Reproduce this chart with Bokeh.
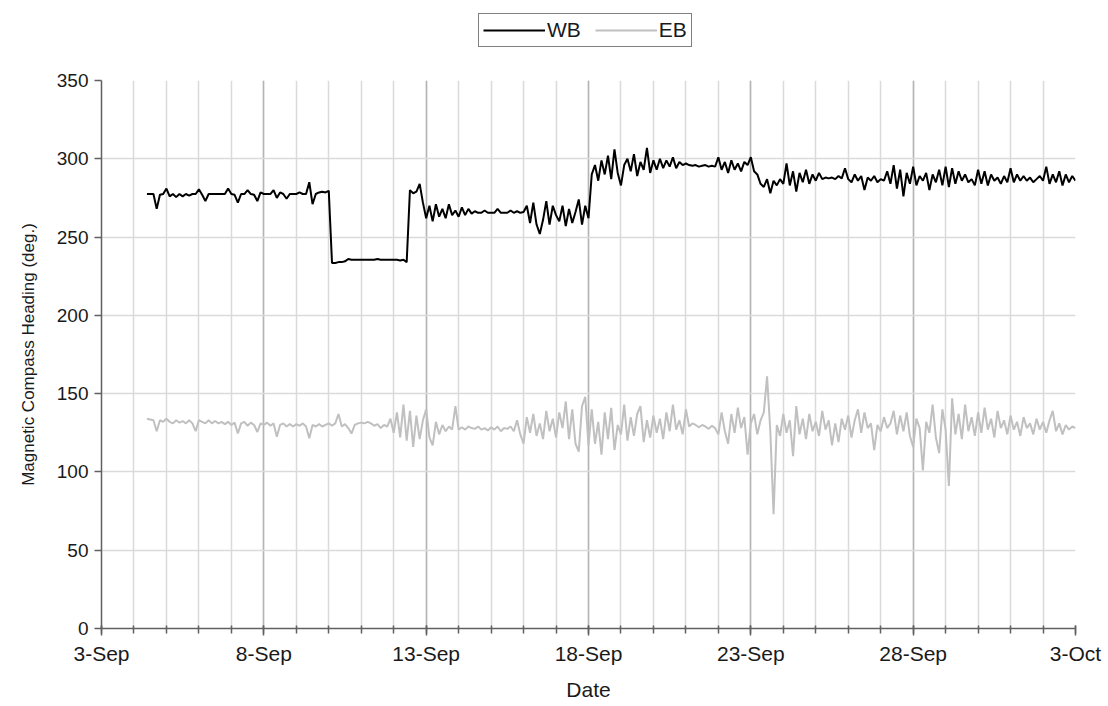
import numpy as np
from bokeh.embed import file_html
from bokeh.layouts import column
from bokeh.models import FixedTicker, Legend, LegendItem, Range1d
from bokeh.plotting import figure
from bokeh.resources import INLINE

# ---- data -----------------------------------------------------------------
# Day axis runs from 3-Sep (day 0) to 3-Oct (day 30); readings every 0.1 day.
first_reading_day = 1.4
reading_interval_days = 0.1

tick_days = [0, 5, 10, 15, 20, 25, 30]
tick_labels = ["3-Sep", "8-Sep", "13-Sep", "18-Sep", "23-Sep", "28-Sep", "3-Oct"]
heading_ticks = [0, 50, 100, 150, 200, 250, 300, 350]

# Westbound heading (deg.)
wb_seg1 = [277.5, 277.5, 277.5, 268, 277, 277.5,
           281, 276, 277.5, 275.5, 277.5, 276, 277.5, 276.5, 277.5, 277.5,
           280.5, 277, 273, 277.5, 277.5, 277.5, 277.5, 277.5, 277.5, 281,
           277.5, 277, 272, 277.5, 277.5, 280, 277.5, 277, 273, 278.5,
           277.5, 277.5, 277.5, 280, 275, 278.5, 277.5, 274.5, 277.5, 277.5,
           277.5, 278.5, 277.5, 277.5, 285, 271, 277.5, 278.5, 279, 278.5,
           279.5]
wb_seg2 = [233.5, 233.5, 234, 234, 234.5, 236, 235.5, 235.5, 235.5,
           235.5, 235.5, 235.5, 235.5, 235.5, 236, 235.5, 235.5, 235.5, 235.5,
           235.5, 235.5, 235, 235.5, 234]
wb_seg3 = [280, 278, 279, 284, 272,
           262, 270, 260, 271, 263, 268, 262, 271, 264, 267,
           263, 269, 264, 268, 265, 266.5, 265.5, 265.5, 267, 265.5,
           265.5, 265.5, 268, 265.5, 265.5, 265.5, 267, 265.5, 266.5, 265.5,
           266, 270, 259, 272, 258, 252, 261, 273, 258, 270,
           264, 260, 270, 257, 268, 259, 266, 274, 258, 270,
           262]
wb_seg4 = [290, 296, 286, 299, 290, 302, 287, 306, 291,
           283, 296, 300, 292, 303, 289, 298, 293, 307, 291,
           299, 293, 300, 294, 299, 295, 301, 294, 298, 296,
           297, 296, 295.5, 296, 295, 295.5, 296, 295, 295.5, 295,
           301, 293, 298, 291, 299, 293, 297, 292, 298, 296,
           301, 292]
wb_seg5 = [290, 284, 282, 287, 278, 286, 283, 287,
           284, 297, 283, 292, 279, 291, 285, 293, 284, 290,
           286, 291, 287, 288, 287.5, 288, 287, 289, 287.5, 294,
           287, 285, 290, 286, 289, 280, 288, 286, 289, 285,
           287, 286, 292, 284, 296, 281, 293, 276, 291, 284,
           295, 283, 289, 286, 291, 280, 290, 285, 293, 283,
           295, 282, 294, 284, 292, 286, 290, 285, 287, 283,
           293, 284, 292, 283, 290, 286, 288, 284, 289, 285,
           294, 285, 290, 286, 289, 286, 288, 285, 287, 289,
           286, 295, 284, 290, 285, 292, 283, 290, 285, 289,
           286]

# Eastbound heading (deg.)
eb_seg1 = [134, 133.5, 133, 126, 133, 132,
           134, 132, 131, 133, 131.5, 132.5, 131, 133, 131, 126,
           133, 132, 131, 133, 131, 132.5, 131, 132, 130.5, 132,
           130, 131.5, 124.5, 131, 132, 129.5, 131.5, 130, 125.5, 131,
           130, 131.5, 129.5, 131, 122.5, 130, 131, 129, 130.5, 129,
           130.5, 129.5, 131, 129, 121.5, 130, 129, 130.5, 129, 130,
           131, 129.5, 131, 137, 129, 130.5, 128, 124.5, 130, 131,
           131.5, 131, 132, 131, 129.5, 130.5, 128, 130, 129]
eb_seg2 = [134,
           125, 138, 122, 143, 120, 139, 116, 136, 121, 133,
           140, 122, 117, 132, 124, 130, 126, 129, 127, 142,
           127, 128.5, 127, 129, 128, 127.5, 129, 127, 128, 126.5,
           128.5, 127, 129, 126, 128, 127.5, 129, 126, 133, 124,
           118, 135, 125, 137, 123, 131, 121, 139, 126, 134,
           122, 138, 128, 145, 121, 140, 118, 113, 142, 148,
           117]
eb_seg3 = [140, 118, 132, 111, 138, 121, 141, 114, 130,
           124, 143, 120, 135, 123, 137, 142, 119, 133, 122,
           136, 125, 134, 121, 138, 126, 143, 127, 133, 124,
           140, 129, 131, 130, 128.5, 130, 129, 127.5, 129.5, 128,
           124, 138, 126, 118, 137, 125, 141, 128, 135, 111,
           131, 137, 124, 133, 138, 161, 126, 73, 130, 123,
           137, 125, 133, 110, 142, 124, 134, 121, 137, 126,
           132, 123, 139, 127, 133, 117, 131, 119, 134, 127,
           136, 122, 133, 140, 125, 138, 128, 131, 114, 130,
           126, 135, 128, 131, 139, 124, 136, 126, 138, 123,
           116, 134, 128, 101, 132, 125, 143, 122, 112, 140,
           127, 91, 147, 124, 137, 121, 143, 126, 135, 123,
           138, 125, 141, 127, 134, 122, 139, 128, 133, 124,
           136, 127, 132, 123, 135, 128, 131, 124, 134, 127,
           132, 125, 133, 139, 126, 131, 124, 130, 127, 129,
           128]

wb = np.array(wb_seg1 + wb_seg2 + wb_seg3 + wb_seg4 + wb_seg5, dtype=float)
eb = np.array(eb_seg1 + eb_seg2 + eb_seg3, dtype=float)
wb_days = first_reading_day + reading_interval_days * np.arange(len(wb))
eb_days = first_reading_day + reading_interval_days * np.arange(len(eb))

# ---- styling ----------------------------------------------------------------
FONT = "Liberation Sans"
TEXT = "#1a1a1a"
WB_COLOR = "black"
EB_COLOR = "#c0c0c0"
LINE_W = 2

# ---- main chart -------------------------------------------------------------
p = figure(width=1108, height=636, output_backend="svg", toolbar_location=None,
           x_range=Range1d(0, 30), y_range=Range1d(0, 350),
           min_border_left=101, min_border_right=33,
           min_border_top=10, min_border_bottom=78)
p.outline_line_color = None
p.background_fill_color = "white"
p.border_fill_color = "white"

day_ticker = FixedTicker(ticks=tick_days, minor_ticks=list(range(0, 31)))
p.xaxis.ticker = day_ticker
p.xaxis.major_label_overrides = {d: lab for d, lab in zip(tick_days, tick_labels)}
p.yaxis.ticker = FixedTicker(ticks=heading_ticks)

p.xgrid.ticker = day_ticker
p.xgrid.grid_line_color = "#b4b4b4"
p.xgrid.grid_line_width = 1.5
p.xgrid.minor_grid_line_color = "#dadada"
p.xgrid.minor_grid_line_width = 1.5
p.ygrid.grid_line_color = "#dadada"
p.ygrid.grid_line_width = 1.5

for ax in (p.xaxis, p.yaxis):
    ax.axis_line_color = "#606060"
    ax.axis_line_width = 1.5
    ax.major_tick_line_color = "#606060"
    ax.major_tick_line_width = 1.5
    ax.minor_tick_line_color = "#606060"
    ax.minor_tick_line_width = 1.5
    ax.major_label_text_font = FONT
    ax.major_label_text_color = TEXT
    ax.axis_label_text_font = FONT
    ax.axis_label_text_font_style = "normal"
    ax.axis_label_text_color = TEXT
    ax.major_label_standoff = 6

p.xaxis.major_label_text_font_size = "21px"
p.xaxis.major_tick_out = 7
p.xaxis.major_tick_in = 3
p.xaxis.minor_tick_out = 5
p.xaxis.minor_tick_in = 3
p.xaxis.axis_label = "Date"
p.xaxis.axis_label_text_font_size = "21px"
p.xaxis.axis_label_standoff = 10

p.yaxis.major_label_text_font_size = "19px"
p.yaxis.major_tick_out = 7
p.yaxis.major_tick_in = 0
p.yaxis.minor_tick_out = 0
p.yaxis.minor_tick_in = 0
p.yaxis.axis_label = "Magnetic Compass Heading (deg.)"
p.yaxis.axis_label_text_font_size = "17px"
p.yaxis.axis_label_standoff = 16

p.line(wb_days, wb, line_color=WB_COLOR, line_width=LINE_W)
p.line(eb_days, eb, line_color=EB_COLOR, line_width=LINE_W)

# ---- legend strip above the chart -----------------------------------------
# The strip's y range sits below every heading value, so its copies of the two
# series stay out of view and only serve as legend keys.
key = figure(width=1108, height=70, output_backend="svg", toolbar_location=None,
             x_range=Range1d(0, 30), y_range=Range1d(0, 50), min_border=0)
key.axis.visible = False
key.grid.visible = False
key.outline_line_color = None
key.background_fill_color = "white"
key.border_fill_color = "white"
wb_key = key.line(wb_days, wb, line_color=WB_COLOR, line_width=LINE_W)
eb_key = key.line(eb_days, eb, line_color=EB_COLOR, line_width=LINE_W)

legend = Legend(items=[LegendItem(label="WB", renderers=[wb_key]),
                       LegendItem(label="EB", renderers=[eb_key])],
                orientation="horizontal", location=(377, 23),
                border_line_color="black", border_line_width=1,
                background_fill_color="white", background_fill_alpha=1,
                label_text_font=FONT, label_text_font_size="21px",
                label_text_color=TEXT, glyph_width=62, glyph_height=20,
                label_standoff=2, spacing=14, padding=4, margin=0)
key.add_layout(legend, "center")

layout = column(key, p, spacing=0)
open("out.html", "w").write(file_html(layout, INLINE))
